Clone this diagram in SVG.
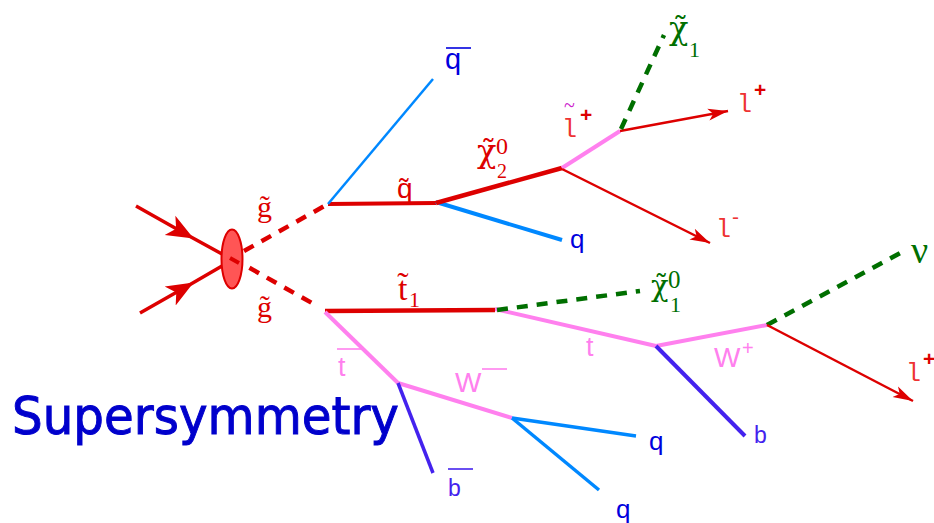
<svg xmlns="http://www.w3.org/2000/svg" width="934" height="523" viewBox="0 0 934 523">
<style>
.c{fill:none;stroke-linecap:butt}
.red{stroke:#dd0000}.pink{stroke:#ff80ee}.blue{stroke:#0088ff}.pur{stroke:#4422ee}.grn{stroke:#006f00}
.dash{stroke-width:4.5;stroke-dasharray:11 9}
text{font-family:"Liberation Sans",Arial,sans-serif}
.s{font-family:"Liberation Serif","Times New Roman",serif}
.d{font-family:"DejaVu Serif",serif}
.m{font-family:"Liberation Mono","Courier New",monospace}
.r{fill:#dd0000}.g{fill:#006f00}.b{fill:#0000dd}.p{fill:#ff80ee}.v{fill:#4422ee}.l{fill:#ee3333}
.o{stroke-width:1.6}
</style>
<defs>
<marker id="big" markerUnits="userSpaceOnUse" markerWidth="30" markerHeight="26" refX="24" refY="13" orient="auto"><path d="M0,2 L27,13 L0,24 L7,13Z" fill="#dd0000"/></marker>
<marker id="small" markerUnits="userSpaceOnUse" markerWidth="22" markerHeight="16" refX="20" refY="8" orient="auto"><path d="M0,2 L20,8 L0,14 L5,8Z" fill="#dd0000"/></marker>
</defs>
<g id="connectors">
<path class="c red" stroke-width="3.5" marker-mid="url(#big)" d="M136,206 L191,237 L222,254"/>
<path class="c red" stroke-width="3.5" marker-mid="url(#big)" d="M140,313 L191,284 L222,266"/>
<path class="c red dash" d="M232,258 L319,307"/>
<path class="c red dash" d="M244,251 L328,204"/>
<path class="c red" stroke-width="4" d="M328,204 L436,203"/>
<path class="c blue" stroke-width="2.5" d="M328,204 L433,79"/>
<path class="c blue" stroke-width="4" d="M436,202 L562,240"/>
<path class="c red" stroke-width="4.5" d="M436,203 L562,168"/>
<path class="c pink" stroke-width="4" d="M562,168 L620,131"/>
<path class="c red" stroke-width="2.5" marker-end="url(#small)" d="M562,169 L710,243"/>
<path class="c red" stroke-width="2.5" marker-end="url(#small)" d="M620,131 L728,111"/>
<path class="c grn dash" stroke-dasharray="9 8" d="M621,129 L664,35"/>
<path class="c pink" stroke-width="4" d="M495,309 L656,346"/>
<path class="c red" stroke-width="4.5" d="M325,311 L495,310"/>
<path class="c grn dash" stroke-dasharray="10 8" d="M497,310 L640,291"/>
<path class="c pink" stroke-width="4" d="M325,312 L398,383"/>
<path class="c pink" stroke-width="4" d="M398,383 L512,418"/>
<path class="c pur" stroke-width="3.5" d="M398,383 L433,473"/>
<path class="c blue" stroke-width="3.5" d="M512,418 L636,436"/>
<path class="c blue" stroke-width="3.5" d="M512,418 L599,490"/>
<path class="c pink" stroke-width="4" d="M656,346 L767,325"/>
<path class="c pur" stroke-width="4" d="M656,346 L745,436"/>
<path class="c grn dash" stroke-dasharray="11 8" d="M767,325 L902,252"/>
<path class="c red" stroke-width="2.5" marker-end="url(#small)" d="M767,325 L913,401"/>
</g>
<g id="vertex"><ellipse cx="232" cy="259" rx="10.5" ry="29.5" fill="#ff5555" stroke="#dd0000" stroke-width="2"/><path class="c red" stroke-width="4" d="M230,258 L239,263"/></g>
<g id="gluino1"><text class="s r" font-size="30" x="257" y="217">g&#x303;</text></g>
<g id="gluino2"><text class="s r" font-size="30" x="257" y="317">g&#x303;</text></g>
<g id="squark"><text class="r" font-size="28" x="397" y="198">q&#x303;</text></g>
<g id="antiquark"><text class="b" font-size="29" x="445" y="69">q</text><line class="o" x1="446" y1="48" x2="471" y2="48" stroke="#0000dd"/></g>
<g id="quark1"><text class="b" font-size="26" x="570" y="248">q</text></g>
<g id="chi2"><text class="d r" font-size="32" x="477" y="162">χ&#x303;</text><text class="s r" font-size="24" x="496" y="154">0</text><text class="s r" font-size="20" x="497" y="178">2</text></g>
<g id="slepton"><text class="m l" font-size="25" x="562" y="137">l</text><text class="s" fill="#cc22cc" font-size="20" x="564" y="112">~</text><text class="r" font-size="21" x="580" y="122" font-weight="bold">+</text></g>
<g id="chi1top"><text class="d g" font-size="32" x="669" y="39">χ&#x303;</text><text class="s g" font-size="22" x="689" y="57">1</text></g>
<g id="lepton1"><text class="m l" font-size="25" x="737" y="112">l</text><text class="r" font-size="21" x="754" y="97" font-weight="bold">+</text></g>
<g id="lepton2"><text class="m l" font-size="25" x="716" y="237">l</text><text class="l" font-size="21" x="732" y="224">-</text></g>
<g id="stop"><text class="s r" font-size="34" x="398" y="300">t&#x303;</text><text class="s r" font-size="22" x="409" y="307">1</text></g>
<g id="chi1"><text class="d g" font-size="29" x="651" y="296">χ&#x303;</text><text class="s g" font-size="25" x="668" y="288">0</text><text class="s g" font-size="22" x="670" y="312">1</text></g>
<g id="nu"><text class="s g" font-size="38" x="911" y="263">ν</text></g>
<g id="topbar"><text class="p" font-size="27" x="338" y="376">t</text><line class="o" x1="337" y1="349" x2="365" y2="349" stroke="#ff80ee"/></g>
<g id="top"><text class="p" font-size="27" x="586" y="356">t</text></g>
<g id="wminus"><text class="p" font-size="28" x="455" y="392">W</text><line class="o" x1="482" y1="369" x2="507" y2="369" stroke="#ff80ee"/></g>
<g id="wplus"><text class="p" font-size="28" x="714" y="367">W</text><text class="p" font-size="20" x="742" y="355">+</text></g>
<g id="bbar"><text class="v" font-size="23" x="448" y="496">b</text><line class="o" x1="448" y1="469" x2="473" y2="469" stroke="#4422ee"/></g>
<g id="bquark"><text class="v" font-size="23" x="754" y="443">b</text></g>
<g id="quark2"><text class="b" font-size="26" x="649" y="450">q</text></g>
<g id="quark3"><text class="b" font-size="26" x="616" y="518">q</text></g>
<g id="lepton3"><text class="m l" font-size="25" x="906" y="381">l</text><text class="r" font-size="21" x="923" y="366" font-weight="bold">+</text></g>
<g id="title"><text x="12" y="434" style="font-family:'DejaVu Sans',sans-serif" font-size="52" fill="#0000cc" stroke="#0000cc" stroke-width="1" textLength="387" lengthAdjust="spacingAndGlyphs">Supersymmetry</text></g>
</svg>
